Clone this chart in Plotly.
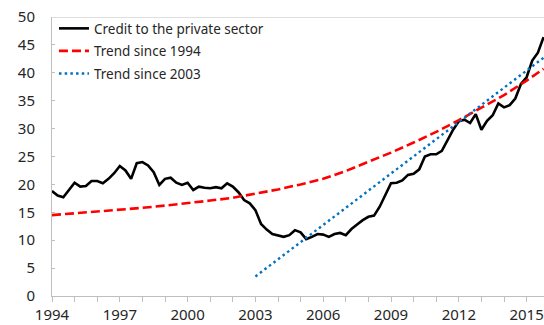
import plotly.graph_objects as go

# Quarterly observations, 1994Q1 - 2015Q4 (per cent of GDP)
quarters = [1994 + 0.25 * i for i in range(88)]
credit = [
    18.8, 18.0, 17.7, 19.0, 20.3, 19.6, 19.7, 20.6,
    20.6, 20.2, 21.0, 22.0, 23.3, 22.5, 21.0, 23.8,
    24.0, 23.4, 22.2, 19.9, 21.0, 21.2, 20.3, 19.9,
    20.3, 19.0, 19.6, 19.4, 19.3, 19.5, 19.3, 20.2,
    19.6, 18.6, 17.2, 16.6, 15.4, 12.9, 11.9, 11.1,
    10.9, 10.6, 10.9, 11.8, 11.4, 10.2, 10.6, 11.1,
    11.0, 10.6, 11.1, 11.3, 10.9, 12.0, 12.8, 13.6,
    14.2, 14.4, 16.0, 18.2, 20.2, 20.3, 20.7, 21.7,
    21.9, 22.7, 25.0, 25.4, 25.4, 26.0, 28.0, 29.8,
    31.3, 31.6, 31.0, 32.6, 29.8, 31.4, 32.4, 34.5,
    33.8, 34.2, 35.4, 38.0, 39.2, 42.2, 43.6, 46.4,
]

# Long-run trend fitted on the full sample
trend94_x = [1994, 1995, 1996, 1997, 1998, 1999, 2000, 2001, 2002, 2003, 2004,
             2005, 2006, 2007, 2008, 2009, 2010, 2011, 2012, 2013, 2014, 2015, 2015.75]
trend94_y = [14.5, 14.8, 15.1, 15.45, 15.8, 16.2, 16.6, 17.1, 17.6, 18.3, 19.1,
             20.0, 21.0, 22.4, 24.0, 25.7, 27.5, 29.4, 31.5, 33.7, 36.0, 38.6, 40.7]

# Linear trend fitted from 2003 onwards
trend03_x = [2003, 2015.75]
trend03_y = [3.5, 42.7]

year_ticks = list(range(1994, 2016))
year_labels = [str(y) if (y - 1994) % 3 == 0 else "" for y in year_ticks]

font_family = "Noto Sans"
axis_grey = "#BFBFBF"
text_col = "#262626"

fig = go.Figure()
fig.add_trace(go.Scatter(
    x=quarters, y=credit, mode="lines", name="Credit to the private sector",
    line=dict(color="#000000", width=2.6), legendgroup="a",
))
fig.add_trace(go.Scatter(
    x=trend94_x, y=trend94_y, mode="lines", name="Trend since 1994",
    line=dict(color="#FF0000", width=2.6, dash="9px,4px"), legendgroup="b",
))
fig.add_trace(go.Scatter(
    x=trend03_x, y=trend03_y, mode="lines", name="Trend since 2003",
    line=dict(color="#0070C0", width=2.4, dash="2.5px,3.2px"), legendgroup="c",
))

# Top border of the plot area
fig.add_shape(type="line", xref="paper", yref="y", x0=0, x1=1, y0=50, y1=50,
              line=dict(color=axis_grey, width=1))

fig.update_layout(
    width=544, height=325,
    margin=dict(l=52, r=0, t=17, b=29),
    paper_bgcolor="white", plot_bgcolor="white",
    font=dict(family=font_family, size=15, color=text_col),
    showlegend=True,
    legend=dict(
        x=0.004, y=1.014, xanchor="left", yanchor="top",
        bgcolor="rgba(0,0,0,0)", font=dict(size=13.5, color=text_col),
        tracegroupgap=2, itemwidth=30,
    ),
    xaxis=dict(
        range=[1994, 2015.77], tickmode="array",
        tickvals=year_ticks, ticktext=year_labels,
        ticks="outside", ticklen=5, tickcolor=axis_grey,
        showline=True, linecolor=axis_grey, linewidth=1,
        showgrid=False, zeroline=False, automargin=False,
        tickfont=dict(size=15, color=text_col),
        ticklabelstandoff=0,
    ),
    yaxis=dict(
        range=[0, 50], tickmode="array", tickvals=list(range(0, 51, 5)),
        ticks="inside", ticklen=3, tickcolor=axis_grey,
        showline=True, linecolor=axis_grey, linewidth=1,
        showgrid=False, zeroline=False, automargin=False,
        tickfont=dict(size=15, color=text_col),
        ticklabelstandoff=13,
    ),
)

fig.write_html("out.html")
